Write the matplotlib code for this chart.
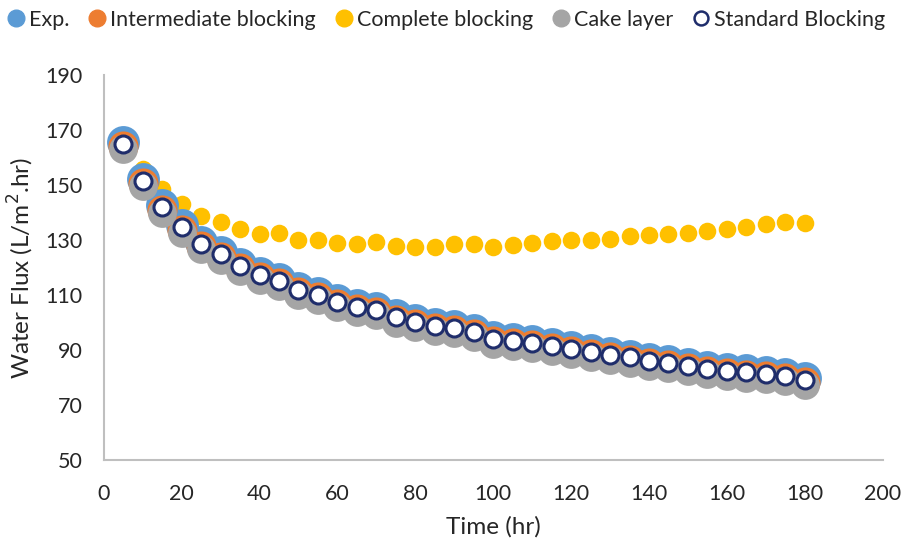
import numpy as np
import matplotlib.pyplot as plt
from matplotlib.lines import Line2D

plt.rcParams['font.family'] = ['Lato', 'DejaVu Sans']

# time (hr)
time = [5, 10, 15, 20, 25, 30, 35, 40, 45, 50, 55, 60, 65, 70, 75, 80, 85, 90,
        95, 100, 105, 110, 115, 120, 125, 130, 135, 140, 145, 150, 155, 160,
        165, 170, 175, 180]

standard = [164.9, 151.6, 141.9, 134.6, 128.5, 124.8, 120.7, 117.3, 115.2, 111.8,
            110.2, 107.6, 105.8, 104.5, 101.9, 100.2, 98.7, 98.1, 96.7, 94.2,
            93.3, 92.7, 91.5, 90.4, 89.4, 88.2, 87.3, 86.2, 85.4, 84.3, 83.3,
            82.5, 81.9, 81.4, 80.5, 79.1]
exp = [165.6, 152.3, 142.6, 135.3, 129.2, 125.5, 121.4, 118.0, 115.9, 112.5,
       110.9, 108.3, 106.5, 105.2, 102.6, 100.9, 99.4, 98.8, 97.4, 94.9,
       94.0, 93.4, 92.2, 91.1, 90.1, 88.9, 88.0, 86.9, 86.1, 85.0, 84.0,
       83.2, 82.6, 82.1, 81.2, 79.8]
intermediate = [164.1, 150.8, 141.1, 133.8, 127.7, 124.0, 119.9, 116.5, 114.4, 111.0,
                109.4, 106.8, 105.0, 103.7, 101.1, 99.4, 97.9, 97.3, 95.9, 93.4,
                92.5, 91.9, 90.7, 89.6, 88.6, 87.4, 86.5, 85.4, 84.6, 83.5, 82.5,
                81.7, 81.1, 80.6, 79.7, 78.3]
cake = [163.0, 149.7, 140.0, 132.7, 126.6, 122.9, 118.8, 115.4, 113.3, 109.9,
        108.3, 105.7, 103.9, 102.6, 100.0, 98.3, 96.8, 96.2, 94.8, 92.3,
        91.4, 90.8, 89.6, 88.5, 87.5, 86.3, 85.4, 84.3, 83.5, 82.4, 81.4,
        80.6, 80.0, 79.5, 78.6, 77.2]
complete = [166.5, 155.8, 148.4, 143.0, 138.7, 136.5, 133.9, 132.2, 132.4, 130.2,
            130.2, 128.8, 128.4, 129.2, 127.8, 127.6, 127.5, 128.6, 128.7, 127.5,
            128.3, 129.0, 129.5, 129.9, 129.9, 130.3, 131.5, 131.8, 132.3, 132.5,
            133.3, 134.1, 134.8, 135.8, 136.5, 136.1]

c_exp = '#5B9BD5'
c_int = '#ED7D31'
c_comp = '#FFC000'
c_cake = '#A5A5A5'
c_std = '#1F2D6B'

fig = plt.figure(figsize=(9.1, 5.4), dpi=100)
ax = fig.add_axes([0.114, 0.148, 0.856, 0.713])

ax.scatter(time, complete, s=160, color=c_comp, zorder=2, linewidths=0)
ax.scatter(time, exp, s=560, color=c_exp, zorder=3, linewidths=0)
ax.scatter(time, intermediate, s=470, color=c_int, zorder=4, linewidths=0)
ax.scatter(time, cake, s=430, color=c_cake, zorder=5, linewidths=0)
ax.scatter(time, standard, s=150, facecolor='white', edgecolor=c_std,
           linewidths=2.2, zorder=6)

ax.set_xlim(0, 200)
ax.set_ylim(50, 190)
ax.set_xticks(np.arange(0, 201, 20))
ax.set_yticks(np.arange(50, 191, 20))
ax.tick_params(length=0, labelsize=15.5, colors='#262626')
ax.tick_params(axis='y', pad=15)
ax.tick_params(axis='x', pad=17)
for s in ['top', 'right']:
    ax.spines[s].set_visible(False)
for s in ['left', 'bottom']:
    ax.spines[s].set_color('#BFBFBF')
    ax.spines[s].set_linewidth(1.5)

ax.set_xlabel('Time (hr)', fontsize=17.5, labelpad=9, color='#262626')
ax.set_ylabel('Water Flux (L/m$^2$.hr)', fontsize=17.5, labelpad=7, color='#262626')

handles = [
    Line2D([], [], marker='o', ls='', color=c_exp, markersize=12),
    Line2D([], [], marker='o', ls='', color=c_int, markersize=12),
    Line2D([], [], marker='o', ls='', color=c_comp, markersize=12),
    Line2D([], [], marker='o', ls='', color=c_cake, markersize=12),
    Line2D([], [], marker='o', ls='', markerfacecolor='white',
           markeredgecolor=c_std, markeredgewidth=1.8, markersize=10),
]
labels = ['Exp.', 'Intermediate blocking', 'Complete blocking', 'Cake layer',
          'Standard Blocking']
fig.legend(handles, labels, loc='center', bbox_to_anchor=(0.488, 0.963), ncol=5,
           frameon=False, fontsize=15.5, handletextpad=0.0, columnspacing=0.7,
           handlelength=1.2, labelcolor='#262626')

fig.savefig('out.png', dpi=100, facecolor='white')
